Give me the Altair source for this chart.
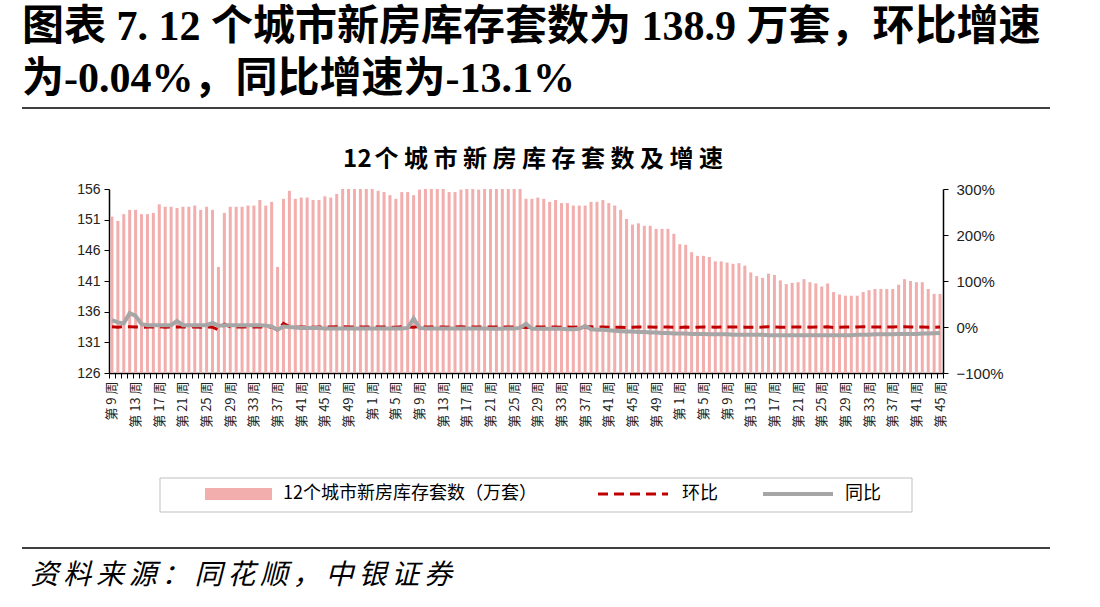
import json
import altair as alt
import pandas as pd

# ---- week labels (three consecutive stretches of weekly data) ----
weeks_first = list(range(9, 53))    # 第9周 .. 第52周
weeks_second = list(range(1, 53))   # 第1周 .. 第52周
weeks_third = list(range(1, 46))    # 第1周 .. 第45周
week_labels = [f"第 {w} 周" for w in weeks_first + weeks_second + weeks_third]

# ---- new-home inventory of 12 cities (10k units) ----
stock_first = [
    151.5, 150.8, 151.9, 152.6, 152.6, 151.9, 151.9, 152.1, 153.5, 153.1,
    153.1, 152.9, 153.1, 153.1, 153.3, 152.6, 153.1, 152.6, 143.3, 152.1,
    153.1, 153.1, 153.1, 153.3, 153.3, 154.2, 153.3, 153.9, 143.3, 154.4,
    155.7, 154.4, 154.6, 154.6, 154.2, 154.2, 154.8, 154.6, 155.2, 156.0,
    156.0, 156.0, 156.0, 156.0,
]
stock_second = [
    156.0, 155.7, 155.5, 155.0, 154.4, 155.5, 155.5, 155.0, 155.9, 156.0,
    156.0, 156.0, 156.0, 155.5, 155.5, 155.9, 156.0, 156.0, 155.9, 156.0,
    156.0, 156.0, 156.0, 156.0, 156.0, 156.0, 154.4, 154.4, 154.6, 154.4,
    153.9, 154.2, 153.7, 153.7, 153.3, 153.3, 153.3, 153.9, 153.9, 154.2,
    153.7, 153.3, 152.6, 151.1, 150.2, 150.4, 150.0, 150.0, 149.5, 149.5,
    149.5, 148.7,
]
stock_third = [
    147.0, 146.9, 145.7, 145.1, 145.1, 144.9, 144.2, 144.2, 144.0, 143.8,
    143.9, 143.5, 142.4, 141.8, 141.5, 142.2, 142.0, 141.1, 140.5, 140.7,
    140.8, 141.3, 140.8, 140.6, 140.1, 140.6, 139.2, 138.8, 138.6, 138.6,
    138.6, 139.2, 139.5, 139.7, 139.7, 139.7, 139.7, 140.4, 141.3, 141.0,
    140.8, 140.8, 139.7, 138.9, 138.9,
]

# ---- week-on-week growth, % ----
mom_first = [
    0.3, -0.5, 0.7, 0.5, 0.0, -0.5, 0.0, 0.1, 0.9, -0.3,
    0.0, -0.1, 0.1, 0.0, 0.1, -0.5, 0.3, -0.3, -6.1, 6.2,
    0.7, 0.0, 0.0, 0.1, 0.0, 0.6, -0.6, 0.4, -6.9, 7.7,
    0.8, -0.8, 0.1, 0.0, -0.3, 0.0, 0.4, -0.1, 0.4, 0.5,
    0.0, 0.0, 0.0, 0.0,
]
mom_second = [
    0.0, -0.2, -0.1, -0.3, -0.4, 0.7, 0.0, -0.3, 0.6, 0.1,
    0.0, 0.0, 0.0, -0.3, 0.0, 0.3, 0.1, 0.0, -0.1, 0.1,
    0.0, 0.0, 0.0, 0.0, 0.0, 0.0, -1.0, 0.0, 0.1, -0.1,
    -0.3, 0.2, -0.3, 0.0, -0.3, 0.0, 0.0, 0.4, 0.0, 0.2,
    -0.3, -0.3, -0.5, -1.0, -0.6, 0.1, -0.3, 0.0, -0.3, 0.0,
    0.0, -0.5,
]
mom_third = [
    -1.1, -0.1, -0.8, -0.4, 0.0, -0.1, -0.5, 0.0, -0.1, -0.1,
    0.1, -0.3, -0.8, -0.4, -0.2, 0.5, -0.1, -0.6, -0.4, 0.1,
    0.1, 0.4, -0.4, -0.1, -0.4, 0.4, -1.0, -0.3, -0.1, 0.0,
    0.0, 0.4, 0.2, 0.1, 0.0, 0.0, 0.0, 0.5, 0.6, -0.2,
    -0.1, 0.0, -0.8, -0.6, -0.04,
]

# ---- year-on-year growth, % ----
yoy_first = [
    15, 10, 8, 30, 24, 6, 4, 4, 4, 4,
    4, 13, 4, 4, 4, 4, 4, 9, 3, 4,
    4, 4, 4, 4, 4, 4, 3, 1, -6, 1,
    0, -1, -2, -2, -2, -2, -3, -3, -3, -3,
    -3, -3, -3, -3,
]
yoy_second = [
    -3, -3, -3, -3, -3, -3, -2, 19, -2, -3,
    -3, -3, -3, -3, -3, -3, -3, -3, -3, -3,
    -4, -4, -4, -3, -3, -2, 7, -4, -4, -4,
    -4, -4, -4, -5, -5, -4, 2, -5, -6, -6,
    -7, -8, -9, -10, -10, -11, -11, -12, -12, -13,
    -13, -14,
]
yoy_third = [
    -14, -14, -15, -15, -15, -16, -16, -16, -16, -17,
    -17, -17, -17, -17, -17, -18, -18, -18, -18, -18,
    -18, -18, -18, -18, -18, -18, -18, -18, -18, -18,
    -17, -17, -17, -16, -16, -16, -16, -15, -15, -15,
    -15, -14, -14, -13.5, -13.1,
]

stock = stock_first + stock_second + stock_third
mom = mom_first + mom_second + mom_third
yoy = yoy_first + yoy_second + yoy_third

df = pd.DataFrame({
    "i": list(range(len(stock))),
    "stock": stock,
    "mom": [v / 100 for v in mom],
    "yoy": [v / 100 for v in yoy],
})

# ---- styling ----
BAR_COLOR = "#F2ADAD"
RED = "#C00000"
GREY = "#A6A6A6"
TXT = "#222222"
NUM_FONT = "Liberation Sans, 'Noto Sans CJK SC'"
CJK_FONT = "'Noto Sans CJK SC'"
HEAD_FONT = "Liberation Serif, 'Noto Sans CJK SC'"

W, H = 834, 184
PAD = {"left": 109, "top": 189, "right": 1100 - 109 - W, "bottom": 607 - 189 - H}

label_expr = ("datum.value % 4 == 0 ? "
              + json.dumps(week_labels, ensure_ascii=False)
              + "[datum.value] : ''")

x_enc = alt.X(
    "i:O",
    scale=alt.Scale(paddingInner=0, paddingOuter=0),
    axis=alt.Axis(
        title=None, labelExpr=label_expr, labelAngle=270, labelOverlap=False,
        labelFont=CJK_FONT, labelFontSize=13, labelColor=TXT,
        labelPadding=3, tickBand="extent", tickSize=5, tickColor="black",
        tickWidth=1, domainColor="black", domainWidth=1.5,
    ),
)

bars = alt.Chart(df).mark_bar(size=3, color=BAR_COLOR).encode(
    x=x_enc,
    y=alt.Y(
        "stock:Q",
        scale=alt.Scale(domain=[126, 156], zero=False, nice=False),
        axis=alt.Axis(
            title=None, values=[126, 131, 136, 141, 146, 151, 156],
            labelFont=NUM_FONT, labelFontSize=14, labelColor=TXT,
            tickSize=5, tickColor="black", domainColor="black", domainWidth=1.5,
            labelPadding=4, grid=False,
        ),
    ),
    y2=alt.datum(126),
)

pct_scale = alt.Scale(domain=[-1, 3], nice=False, zero=False)

mom_line = alt.Chart(df).mark_line(
    color=RED, strokeWidth=3, strokeDash=[10, 6]
).encode(
    x=x_enc,
    y=alt.Y(
        "mom:Q", scale=pct_scale,
        axis=alt.Axis(
            orient="right", title=None, values=[-1, 0, 1, 2, 3], format=".0%",
            labelFont=NUM_FONT, labelFontSize=15, labelColor=TXT,
            tickSize=5, tickColor="black", domainColor="black", domainWidth=1.5,
            labelPadding=8, grid=False,
        ),
    ),
)

yoy_line = alt.Chart(df).mark_line(color=GREY, strokeWidth=4).encode(
    x=x_enc,
    y=alt.Y("yoy:Q", scale=pct_scale),
)

lines = alt.layer(mom_line, yoy_line)

one = alt.Data(values=[{"k": 0}])
ox, oy = PAD["left"], PAD["top"]


def text(s, x, y, size, font=CJK_FONT, weight="normal", align="left", style=None):
    kw = dict(text=s, align=align, baseline="middle", font=font,
              fontSize=size, fontWeight=weight, color="black")
    if style:
        kw["fontStyle"] = style
    return alt.Chart(one).mark_text(**kw).encode(x=alt.value(x - ox), y=alt.value(y - oy))


def spaced(s, x0, y, size, pitch, weight="normal", style=None):
    """Text laid out one glyph at a time with a fixed pitch for CJK glyphs."""
    rows, cur = [], x0
    for ch in s:
        w = pitch if ord(ch) > 255 else size * 0.6
        rows.append({"c": ch, "x": cur + w / 2 - ox})
        cur += w
    kw = dict(align="center", baseline="middle", font=CJK_FONT, fontSize=size,
              fontWeight=weight, color="black")
    if style:
        kw["fontStyle"] = style
    return alt.Chart(alt.Data(values=rows)).mark_text(**kw).encode(
        x=alt.X("x:Q", scale=None), y=alt.value(y - oy), text="c:N")


def hrule(x1, x2, y, color="black", width=1.5, dash=None):
    kw = dict(color=color, strokeWidth=width)
    if dash:
        kw["strokeDash"] = dash
    return alt.Chart(one).mark_rule(**kw).encode(
        x=alt.value(x1 - ox), x2=alt.value(x2 - ox), y=alt.value(y - oy))


def box(x1, x2, y1, y2, fill, stroke=None):
    kw = dict(fill=fill)
    if stroke:
        kw.update(stroke=stroke, strokeWidth=1)
    return alt.Chart(one).mark_rect(**kw).encode(
        x=alt.value(x1 - ox), x2=alt.value(x2 - ox),
        y=alt.value(y1 - oy), y2=alt.value(y2 - oy))


decor = [
    text("图表 7. 12 个城市新房库存套数为 138.9 万套，环比增速", 22, 27, 42,
         font=HEAD_FONT, weight="bold"),
    text("为-0.04%，同比增速为-13.1%", 22, 79, 42, font=HEAD_FONT, weight="bold"),
    hrule(22, 1050, 108),
    spaced("12个城市新房库存套数及增速", 343, 160, 24, 29.5, weight="bold"),
    box(160, 912, 478, 512, "white", stroke="#BFBFBF"),
    box(205, 272, 488, 500, BAR_COLOR),
    text("12个城市新房库存套数（万套）", 283, 494, 18),
    hrule(598, 668, 494, color=RED, width=3, dash=[10, 6]),
    text("环比", 682, 494, 18),
    hrule(763, 833, 494, color=GREY, width=4),
    text("同比", 845, 494, 18),
    hrule(22, 1050, 548),
    spaced("资料来源：同花顺，中银证券", 28, 576, 28, 32.8, style="italic"),
]

chart = alt.layer(bars, lines, *decor).resolve_scale(y="independent").properties(
    width=W, height=H, padding=PAD,
    autosize=alt.AutoSizeParams(type="none"),
    background="white",
).configure_view(stroke=None)

chart.save("out.html", embed_options={"renderer": "svg", "actions": False})
